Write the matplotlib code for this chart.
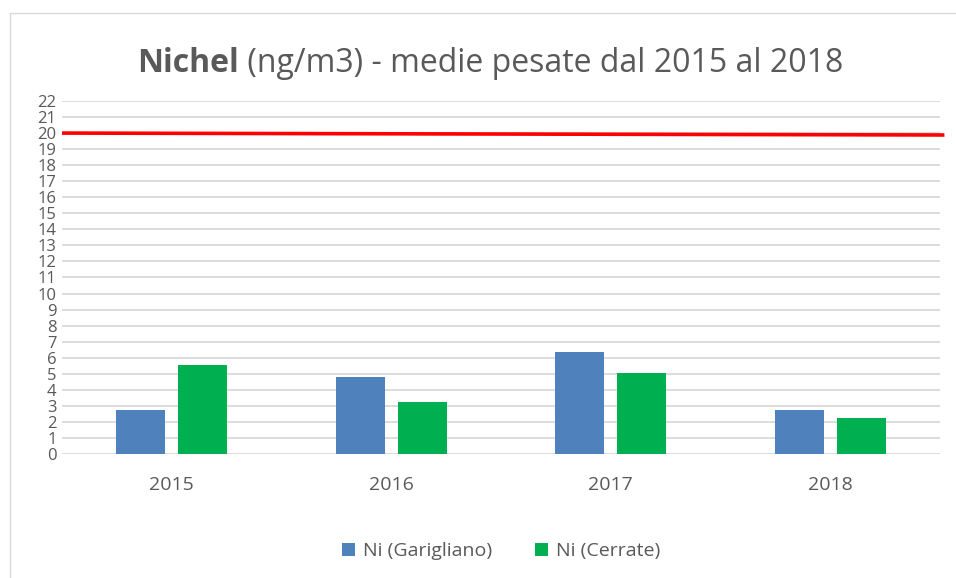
import matplotlib
matplotlib.use("Agg")
import matplotlib.pyplot as plt
import numpy as np
from matplotlib.patches import Rectangle

# Data
years = ["2015", "2016", "2017", "2018"]
garigliano = [2.73, 4.83, 6.33, 2.73]
cerrate = [5.54, 3.24, 5.03, 2.23]
limit_start = 20.0
limit_end = 19.88
yticks = list(range(0, 23))

BLUE = "#4f81bd"
GREEN = "#00b050"
GREY = "#595959"

plt.rcParams['font.family'] = ['Open Sans', 'DejaVu Sans']

fig = plt.figure(figsize=(9.56, 5.78), dpi=100)
ax = fig.add_axes([0.0649, 0.2145, 0.9184, 0.6108])

x = np.arange(len(years))
w = 0.223
off = 0.142
ax.bar(x - off, garigliano, w, color=BLUE, label="Ni (Garigliano)", zorder=3)
ax.bar(x + off, cerrate, w, color=GREEN, label="Ni (Cerrate)", zorder=3)

# limit line (slightly sloped, runs a bit past the plot area)
ax.plot([-0.5, 3.52], [limit_start, limit_end], color="#ff0000", lw=2.6,
        clip_on=False, zorder=4, solid_capstyle="butt")

ax.set_xlim(-0.5, 3.5)
ax.set_ylim(0, 22)
ax.set_yticks(yticks)
ax.set_yticklabels([str(t) for t in yticks], fontsize=12, color=GREY)
ax.set_xticks(x)
ax.set_xticklabels(years, fontsize=14, color=GREY)
ax.tick_params(axis="both", length=0)
ax.tick_params(axis="y", pad=4)
ax.tick_params(axis="x", pad=16)
ax.grid(axis="y", color="#d9d9d9", lw=1.3, zorder=0)
for s in ax.spines.values():
    s.set_visible(False)

leg = ax.legend(loc="upper center", bbox_to_anchor=(0.5, -0.2), ncol=2,
                frameon=False, fontsize=14, handlelength=0.7, handleheight=0.7,
                columnspacing=2.2, handletextpad=0.4)
for t in leg.get_texts():
    t.set_color(GREY)

# title: bold word followed by normal text
fig.canvas.draw()
r = fig.canvas.get_renderer()
t1 = fig.text(0, 0.875, "Nichel", fontsize=23, fontweight="bold", color=GREY)
t2 = fig.text(0, 0.875, " (ng/m3) - medie pesate dal 2015 al 2018", fontsize=23, color=GREY)
w1 = t1.get_window_extent(r).width
w2 = t2.get_window_extent(r).width
x0 = (490 - (w1 + w2) / 2) / 956
t1.set_x(x0)
t2.set_x(x0 + w1 / 956)

# chart frame
fig.patches.append(Rectangle((10 / 956, -0.1), 1.2, 1 - 13 / 578 + 0.1,
                             transform=fig.transFigure, fill=False,
                             edgecolor="#d9d9d9", lw=1.0))

fig.savefig("out.png", dpi=100)
